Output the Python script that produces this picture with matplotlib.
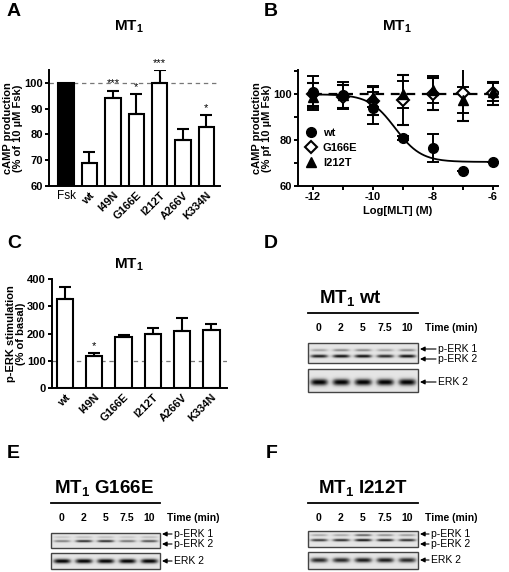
import numpy as np
import matplotlib
matplotlib.use("Agg")
import matplotlib.pyplot as plt
from matplotlib.lines import Line2D
from matplotlib.patches import Rectangle

plt.rcParams['font.family'] = ['Liberation Sans', 'DejaVu Sans']
plt.rcParams['mathtext.fontset'] = 'custom'
plt.rcParams['mathtext.rm'] = 'Liberation Sans'
plt.rcParams['mathtext.bf'] = 'Liberation Sans:bold'
plt.rcParams['axes.unicode_minus'] = False
plt.rcParams['axes.linewidth'] = 1.4
for k in ['xtick.major.width', 'ytick.major.width', 'xtick.minor.width', 'ytick.minor.width']:
    plt.rcParams[k] = 1.4

W, H = 510, 572

# panel A: cAMP inhibition
camp_labels = ['Fsk', 'wt', 'I49N', 'G166E', 'I212T', 'A266V', 'K334N']
camp_mean = [100, 69, 94, 88, 100, 78, 83]
camp_sem = [0, 4, 3, 7.5, 5, 4, 4.5]
camp_stars = ['', '', '***', '*', '***', '', '*']

# panel B: concentration-response
log_mlt = [-12, -11, -10, -9, -8, -7, -6]
wt_resp = [101, 99.5, 94, 81, 76.5, 66.5, 70.5]
wt_err = [7, 0, 7, 1, 6, 0, 0]
g166e_resp = [100, 99, 97, 97.5, 100, 100.5, 100.5]
g166e_err = [5, 5, 6, 11, 7, 12, 5]
i212t_resp = [99, 99.5, 99, 100, 102, 97.5, 101]
i212t_err = [6, 6, 4.5, 6, 6, 5.5, 4]
wt_top, wt_bottom, wt_logec50, wt_hill = 100, 70.5, -9.26, 1.0

# panel C: p-ERK stimulation
perk_labels = ['wt', 'I49N', 'G166E', 'I212T', 'A266V', 'K334N']
perk_mean = [325, 118, 188, 198, 208, 212]
perk_sem = [45, 12, 8, 22, 50, 23]
perk_stars = ['', '*', '', '', '', '']

# panels D-F: western blots (relative band darkness per lane)
blot_times = ['0', '2', '5', '7.5', '10']
wt_perk1 = [0.35, 0.45, 0.45, 0.35, 0.45]
wt_perk2 = [0.9, 0.95, 0.95, 0.85, 0.95]
wt_erk2 = [1.0, 1.0, 1.0, 1.0, 1.0]
g166e_perk1 = [0.2, 0.25, 0.25, 0.2, 0.25]
g166e_perk2 = [0.5, 0.85, 0.85, 0.55, 0.7]
g166e_erk2 = [1.0, 1.0, 1.0, 1.0, 1.0]
i212t_perk1 = [0.35, 0.35, 0.65, 0.45, 0.4]
i212t_perk2 = [0.8, 0.85, 0.95, 0.9, 0.85]
i212t_erk2 = [0.85, 0.85, 0.9, 0.9, 0.85]

fig = plt.figure(figsize=(W / 100, H / 100), dpi=100)


def ax_px(left, top, right, bottom):
    return fig.add_axes([left / W, 1 - bottom / H, (right - left) / W, (bottom - top) / H])


def style_axes(ax):
    ax.spines['top'].set_visible(False)
    ax.spines['right'].set_visible(False)
    ax.tick_params(axis='both', which='both', direction='out', length=3,
                   labelsize=8, pad=1.5)
    for lab in ax.get_yticklabels():
        lab.set_fontweight('bold')


mt1 = r'MT$_\mathbf{1}$'
ylab_kw = dict(fontsize=8, fontweight='bold', labelpad=1, linespacing=0.95)

# ---------- A ----------
axA = ax_px(49, 70, 220, 186)
xa = np.arange(len(camp_labels))
axA.axhline(100, color='#777777', ls='--', lw=0.9, dashes=(3.5, 3), zorder=1)
axA.bar(xa, camp_mean, width=0.66, color=['black'] + ['white'] * 6,
        edgecolor='black', lw=1.5, zorder=2)
axA.errorbar(xa[1:], camp_mean[1:], yerr=[np.zeros(6), camp_sem[1:]], fmt='none',
             ecolor='black', elinewidth=1.5, capsize=4, capthick=1.5, zorder=3)
for i, s in enumerate(camp_stars):
    if s:
        axA.text(xa[i], camp_mean[i] + camp_sem[i] + 0.8, s, ha='center', va='bottom',
                 fontsize=8, clip_on=False)
axA.set_xlim(-0.73, 6.58)
axA.set_ylim(60, 105)
axA.set_yticks([60, 70, 80, 90, 100])
axA.set_xticks(xa)
axA.set_xticklabels(camp_labels)
style_axes(axA)
axA.tick_params(axis='x', length=0, pad=3)
for i, lab in enumerate(axA.get_xticklabels()):
    if i == 0:
        lab.set_fontsize(8.5)
    else:
        lab.set_rotation(45)
        lab.set_ha('right')
        lab.set_rotation_mode('anchor')
        lab.set_fontweight('bold')
        lab.set_fontsize(8)
axA.set_ylabel('cAMP production\n(% of 10 µM Fsk)', **ylab_kw)

# ---------- B ----------
axB = ax_px(298, 70, 498, 186)
axB.plot([log_mlt[0], log_mlt[-1]], [100, 100], color='black', ls='--', lw=1.6,
         dashes=(4, 3), zorder=1)
xfit = np.linspace(log_mlt[0], log_mlt[-1], 200)
yfit = wt_bottom + (wt_top - wt_bottom) / (1 + 10 ** ((xfit - wt_logec50) * wt_hill))
axB.plot(xfit, yfit, color='black', lw=1.3, zorder=2)
ebkw = dict(ecolor='black', elinewidth=1.4, capsize=4.5, capthick=1.4, zorder=3)
axB.errorbar(log_mlt, g166e_resp, yerr=g166e_err, fmt='D', ms=6, mfc='white',
             mec='black', mew=1.5, **ebkw)
axB.errorbar(log_mlt, i212t_resp, yerr=i212t_err, fmt='^', ms=7, mfc='black',
             mec='black', **ebkw)
axB.errorbar(log_mlt, wt_resp, yerr=wt_err, fmt='o', ms=7, mfc='black',
             mec='black', **ebkw)
axB.set_xlim(-12.5, -5.83)
axB.set_ylim(60, 110.6)
axB.set_yticks([60, 80, 100])
axB.set_yticks([70, 90, 110], minor=True)
axB.set_xticks([-12, -10, -8, -6])
axB.set_xticks([-11, -9, -7], minor=True)
style_axes(axB)
for lab in axB.get_xticklabels():
    lab.set_fontweight('bold')
axB.set_ylabel('cAMP production\n(% pf 10 µM Fsk)', **ylab_kw)
axB.set_xlabel('Log[MLT] (M)', fontsize=8, fontweight='bold', labelpad=3)
handles = [Line2D([], [], ls='', marker='o', ms=7, mfc='black', mec='black'),
           Line2D([], [], ls='', marker='D', ms=6, mfc='white', mec='black', mew=1.5),
           Line2D([], [], ls='', marker='^', ms=7, mfc='black', mec='black')]
axB.legend(handles, ['wt', 'G166E', 'I212T'], loc='upper left',
           bbox_to_anchor=(0.035, 0.5), frameon=False, handlelength=1.0,
           handletextpad=0.6, labelspacing=0.45, borderpad=0, borderaxespad=0,
           prop=dict(size=8, weight='bold'))

# ---------- C ----------
axC = ax_px(52, 279, 227, 388)
xc = np.arange(len(perk_labels))
axC.axhline(100, color='#777777', ls='--', lw=0.9, dashes=(3.5, 3), zorder=1)
axC.bar(xc, perk_mean, width=0.56, color='white', edgecolor='black', lw=1.5, zorder=2)
axC.errorbar(xc, perk_mean, yerr=[np.zeros(len(xc)), perk_sem], fmt='none',
             ecolor='black', elinewidth=1.5, capsize=4, capthick=1.5, zorder=3)
for i, s in enumerate(perk_stars):
    if s:
        axC.text(xc[i], perk_mean[i] + perk_sem[i] + 5, s, ha='center', va='bottom',
                 fontsize=8)
axC.set_xlim(-0.44, 5.53)
axC.set_ylim(0, 400)
axC.set_yticks([0, 100, 200, 300, 400])
axC.set_xticks(xc)
axC.set_xticklabels(perk_labels)
style_axes(axC)
axC.tick_params(axis='x', length=0, pad=3)
for lab in axC.get_xticklabels():
    lab.set_rotation(45)
    lab.set_ha('right')
    lab.set_rotation_mode('anchor')
    lab.set_fontweight('bold')
    lab.set_fontsize(8)
axC.set_ylabel('p-ERK stimulation\n(% of basal)', **ylab_kw)

# ---------- overlay: letters, titles, blots ----------
ov = fig.add_axes([0, 0, 1, 1], zorder=-1)
ov.patch.set_visible(False)
ov.axis('off')

for letter, x, y in [('A', 7, 12), ('B', 264, 12), ('C', 7, 243),
                     ('D', 264, 243), ('E', 7, 453), ('F', 266, 453)]:
    ov.text(x, y, letter, fontsize=14, fontweight='bold', va='center', ha='left')
for x, y in [(129, 27), (397, 27), (129, 265)]:
    ov.text(x, y, mt1, fontsize=11, fontweight='bold', ha='center', va='center')


def blot_image(ax, x0, x1, y0, y1, rows):
    h, w = 60, 220
    yy, xx = np.mgrid[0:h, 0:w]
    img = np.zeros((h, w))
    lane_c = (np.arange(5) + 0.5) / 5 * w
    for yf, thick, vals in rows:
        for c, v in zip(lane_c, vals):
            img += v * np.exp(-((xx - c) / (w * 0.08)) ** 4
                              - ((yy - yf * h) / (h * thick)) ** 2)
    ax.imshow(np.clip(img, 0, 1), cmap='Greys', vmin=-0.22, vmax=1.0,
              extent=(x0, x1, y1, y0), aspect='auto', interpolation='bilinear',
              zorder=1)
    ax.add_patch(Rectangle((x0, y0), x1 - x0, y1 - y0, fill=False, lw=1.0,
                           ec='#444444', zorder=2))


def arrow_label(ax, xh, xt, y, text):
    ax.annotate('', xy=(xh, y), xytext=(xt, y),
                arrowprops=dict(arrowstyle='-|>', lw=0.8, color='black',
                                mutation_scale=7, shrinkA=0, shrinkB=0))
    ax.text(xt + 2, y, text, fontsize=7.5, va='center', ha='left')


def blot_panel(ax, title, cx, x0, x1, ytitle, yline, ytime, pbox, ebox,
               perk1, perk2, erk2, yp1, yp2, ye, ya1, ya2, xh, xt):
    ax.text(cx, ytitle, title, fontsize=13.5, fontweight='bold', ha='center',
            va='center')
    ax.plot([x0, x1], [yline, yline], color='black', lw=1.3)
    lane_x = x0 + (np.arange(5) + 0.5) / 5 * (x1 - x0)
    for lx, t in zip(lane_x, blot_times):
        ax.text(lx, ytime, t, fontsize=7.5, fontweight='bold', ha='center',
                va='center')
    ax.text(x1 + 7, ytime, 'Time (min)', fontsize=7.5, fontweight='bold',
            ha='left', va='center')
    pf1 = (yp1 - pbox[0]) / (pbox[1] - pbox[0])
    pf2 = (yp2 - pbox[0]) / (pbox[1] - pbox[0])
    blot_image(ax, x0, x1, pbox[0], pbox[1],
               [(pf1, 0.07, perk1), (pf2, 0.085, perk2)])
    ef = (ye - ebox[0]) / (ebox[1] - ebox[0])
    blot_image(ax, x0, x1, ebox[0], ebox[1], [(ef, 0.15, erk2)])
    arrow_label(ax, xh, xt, ya1, 'p-ERK 1')
    arrow_label(ax, xh, xt, ya2, 'p-ERK 2')
    arrow_label(ax, xh, xt, ye, 'ERK 2')


blot_panel(ov, mt1 + ' wt', 350, 308, 418, 299, 313, 328, (343, 363), (369, 392),
           wt_perk1, wt_perk2, wt_erk2, 350, 356, 382, 349, 359, 420, 436)
blot_panel(ov, mt1 + ' G166E', 104, 51, 160, 489, 503, 518, (533, 548), (553, 569),
           g166e_perk1, g166e_perk2, g166e_erk2, 537, 541, 561, 534, 544, 162, 172)
blot_panel(ov, mt1 + ' I212T', 363, 308, 418, 489, 503, 518, (531, 547), (552, 569),
           i212t_perk1, i212t_perk2, i212t_erk2, 535, 540, 560, 534, 544, 420, 429)

ov.set_xlim(0, W)
ov.set_ylim(H, 0)

fig.savefig('out.png', dpi=100)
